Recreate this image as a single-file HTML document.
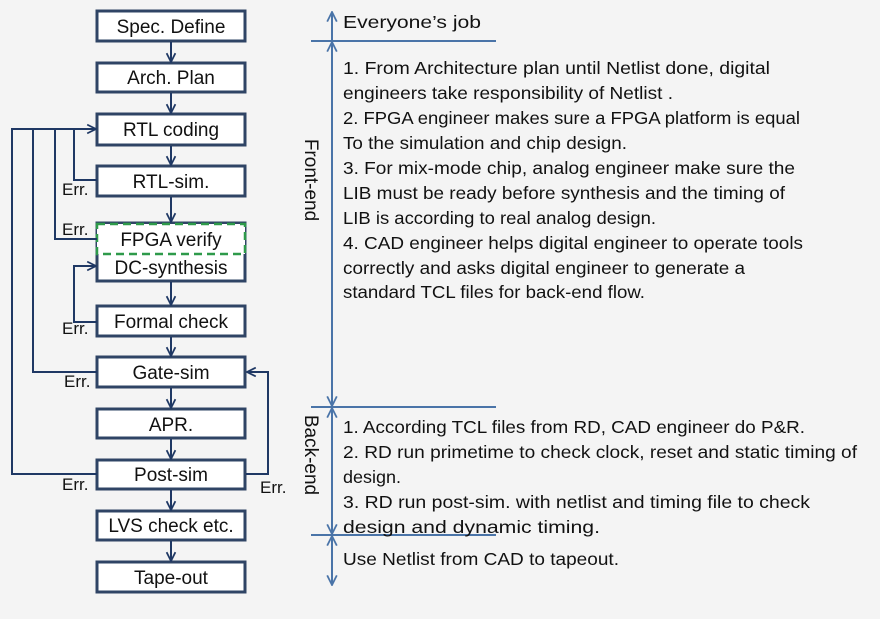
<!DOCTYPE html>
<html><head><meta charset="utf-8"><style>
html,body{margin:0;padding:0;background:#f4f4f4;}
svg{display:block;}
text{font-family:"Liberation Sans",sans-serif;fill:#111;}
</style></head><body>
<svg width="880" height="619" viewBox="0 0 880 619" xmlns="http://www.w3.org/2000/svg">
<defs>
<marker id="a" viewBox="0 0 10 10" refX="9" refY="5" markerWidth="11" markerHeight="11" orient="auto-start-reverse" markerUnits="userSpaceOnUse"><path d="M1,1 L9,5 L1,9" fill="none" stroke="#1f3864" stroke-width="1.6"/></marker>
<marker id="b" viewBox="0 0 10 10" refX="9" refY="5" markerWidth="12" markerHeight="12" orient="auto-start-reverse" markerUnits="userSpaceOnUse"><path d="M1,1 L9,5 L1,9" fill="none" stroke="#4a74a8" stroke-width="1.5"/></marker>
</defs>
<rect width="880" height="619" fill="#f4f4f4"/>
<g fill="#fff" stroke="#2f4465" stroke-width="3">
<rect x="97" y="11" width="148" height="30"/>
<rect x="97" y="63" width="148" height="29"/>
<rect x="97" y="114" width="148" height="31"/>
<rect x="97" y="166" width="148" height="30"/>
<rect x="97" y="223" width="148" height="58"/>
<rect x="97" y="306" width="148" height="30"/>
<rect x="97" y="357" width="148" height="30"/>
<rect x="97" y="409" width="148" height="29"/>
<rect x="97" y="460" width="148" height="29"/>
<rect x="97" y="511" width="148" height="29"/>
<rect x="97" y="562" width="148" height="30"/>
</g>
<rect x="97" y="224" width="148" height="30" fill="#fff" stroke="#2e9a4a" stroke-width="2.5" stroke-dasharray="8,5"/>
<g stroke="#1f3864" stroke-width="2" fill="none">
<line x1="171" y1="42" x2="171" y2="62" marker-end="url(#a)"/>
<line x1="171" y1="93" x2="171" y2="113" marker-end="url(#a)"/>
<line x1="171" y1="146" x2="171" y2="165" marker-end="url(#a)"/>
<line x1="171" y1="197" x2="171" y2="222" marker-end="url(#a)"/>
<line x1="171" y1="282" x2="171" y2="305" marker-end="url(#a)"/>
<line x1="171" y1="337" x2="171" y2="356" marker-end="url(#a)"/>
<line x1="171" y1="388" x2="171" y2="408" marker-end="url(#a)"/>
<line x1="171" y1="439" x2="171" y2="459" marker-end="url(#a)"/>
<line x1="171" y1="490" x2="171" y2="510" marker-end="url(#a)"/>
<line x1="171" y1="541" x2="171" y2="561" marker-end="url(#a)"/>
<polyline points="97,474 12,474 12,129 96,129" marker-end="url(#a)"/>
<polyline points="97,372 33,372 33,129"/>
<polyline points="97,239 55,239 55,129"/>
<polyline points="97,180 74,180 74,129"/>
<polyline points="97,322 74,322 74,266 96,266" marker-end="url(#a)"/>
<polyline points="246,474 268,474 268,372 247,372" marker-end="url(#a)"/>
</g>
<g font-size="19" text-anchor="middle">
<text x="171" y="33">Spec. Define</text>
<text x="171" y="84">Arch. Plan</text>
<text x="171" y="136">RTL coding</text>
<text x="171" y="188">RTL-sim.</text>
<text x="171" y="246">FPGA verify</text>
<text x="171" y="274">DC-synthesis</text>
<text x="171" y="328">Formal check</text>
<text x="171" y="379">Gate-sim</text>
<text x="171" y="431">APR.</text>
<text x="171" y="481">Post-sim</text>
<text x="171" y="532">LVS check etc.</text>
<text x="171" y="584">Tape-out</text>
</g>
<g font-size="17">
<text x="62" y="195">Err.</text>
<text x="62" y="235">Err.</text>
<text x="62" y="334">Err.</text>
<text x="64" y="387">Err.</text>
<text x="62" y="490">Err.</text>
<text x="260" y="493">Err.</text>
</g>
<g stroke="#4a74a8" stroke-width="2" fill="none">
<line x1="311" y1="41" x2="496" y2="41"/>
<line x1="311" y1="407" x2="496" y2="407"/>
<line x1="311" y1="535" x2="496" y2="535"/>
<line x1="332" y1="40" x2="332" y2="12" marker-end="url(#b)"/>
<line x1="332" y1="42" x2="332" y2="406" marker-start="url(#b)" marker-end="url(#b)"/>
<line x1="332" y1="408" x2="332" y2="534" marker-start="url(#b)" marker-end="url(#b)"/>
<line x1="332" y1="536" x2="332" y2="585" marker-start="url(#b)" marker-end="url(#b)"/>
</g>
<text font-size="19" transform="translate(305,180) rotate(90)" text-anchor="middle">Front-end</text>
<text font-size="19" transform="translate(305,455) rotate(90)" text-anchor="middle">Back-end</text>
<g font-size="17.5">
<text x="343" y="28" textLength="138" lengthAdjust="spacingAndGlyphs">Everyone’s job</text>
<text x="343" y="74" textLength="427" lengthAdjust="spacingAndGlyphs">1. From Architecture plan until Netlist done, digital</text>
<text x="343" y="99" textLength="330" lengthAdjust="spacingAndGlyphs">engineers take responsibility of Netlist .</text>
<text x="343" y="124" textLength="457" lengthAdjust="spacingAndGlyphs">2. FPGA engineer makes sure a FPGA platform is equal</text>
<text x="343" y="149" textLength="284" lengthAdjust="spacingAndGlyphs">To the simulation and chip design.</text>
<text x="343" y="174" textLength="452" lengthAdjust="spacingAndGlyphs">3. For mix-mode  chip, analog engineer make sure the</text>
<text x="343" y="199" textLength="442" lengthAdjust="spacingAndGlyphs">LIB must be ready before synthesis and the timing of</text>
<text x="343" y="224" textLength="313" lengthAdjust="spacingAndGlyphs">LIB is according to real analog design.</text>
<text x="343" y="249" textLength="460" lengthAdjust="spacingAndGlyphs">4. CAD engineer helps digital engineer to operate tools</text>
<text x="343" y="274" textLength="402" lengthAdjust="spacingAndGlyphs">correctly and asks digital engineer to generate a</text>
<text x="343" y="298" textLength="302" lengthAdjust="spacingAndGlyphs">standard TCL files for back-end flow.</text>
<text x="343" y="433" textLength="462" lengthAdjust="spacingAndGlyphs">1. According TCL files from RD, CAD engineer do P&amp;R.</text>
<text x="343" y="458" textLength="514" lengthAdjust="spacingAndGlyphs">2. RD run primetime to check clock, reset and static timing of</text>
<text x="343" y="483" textLength="58" lengthAdjust="spacingAndGlyphs">design.</text>
<text x="343" y="508" textLength="467" lengthAdjust="spacingAndGlyphs">3. RD run post-sim. with netlist  and timing file to check</text>
<text x="343" y="533" textLength="257" lengthAdjust="spacingAndGlyphs">design and dynamic timing.</text>
<text x="343" y="565" textLength="276" lengthAdjust="spacingAndGlyphs">Use Netlist from CAD to tapeout.</text>
</g>
</svg>
</body></html>
